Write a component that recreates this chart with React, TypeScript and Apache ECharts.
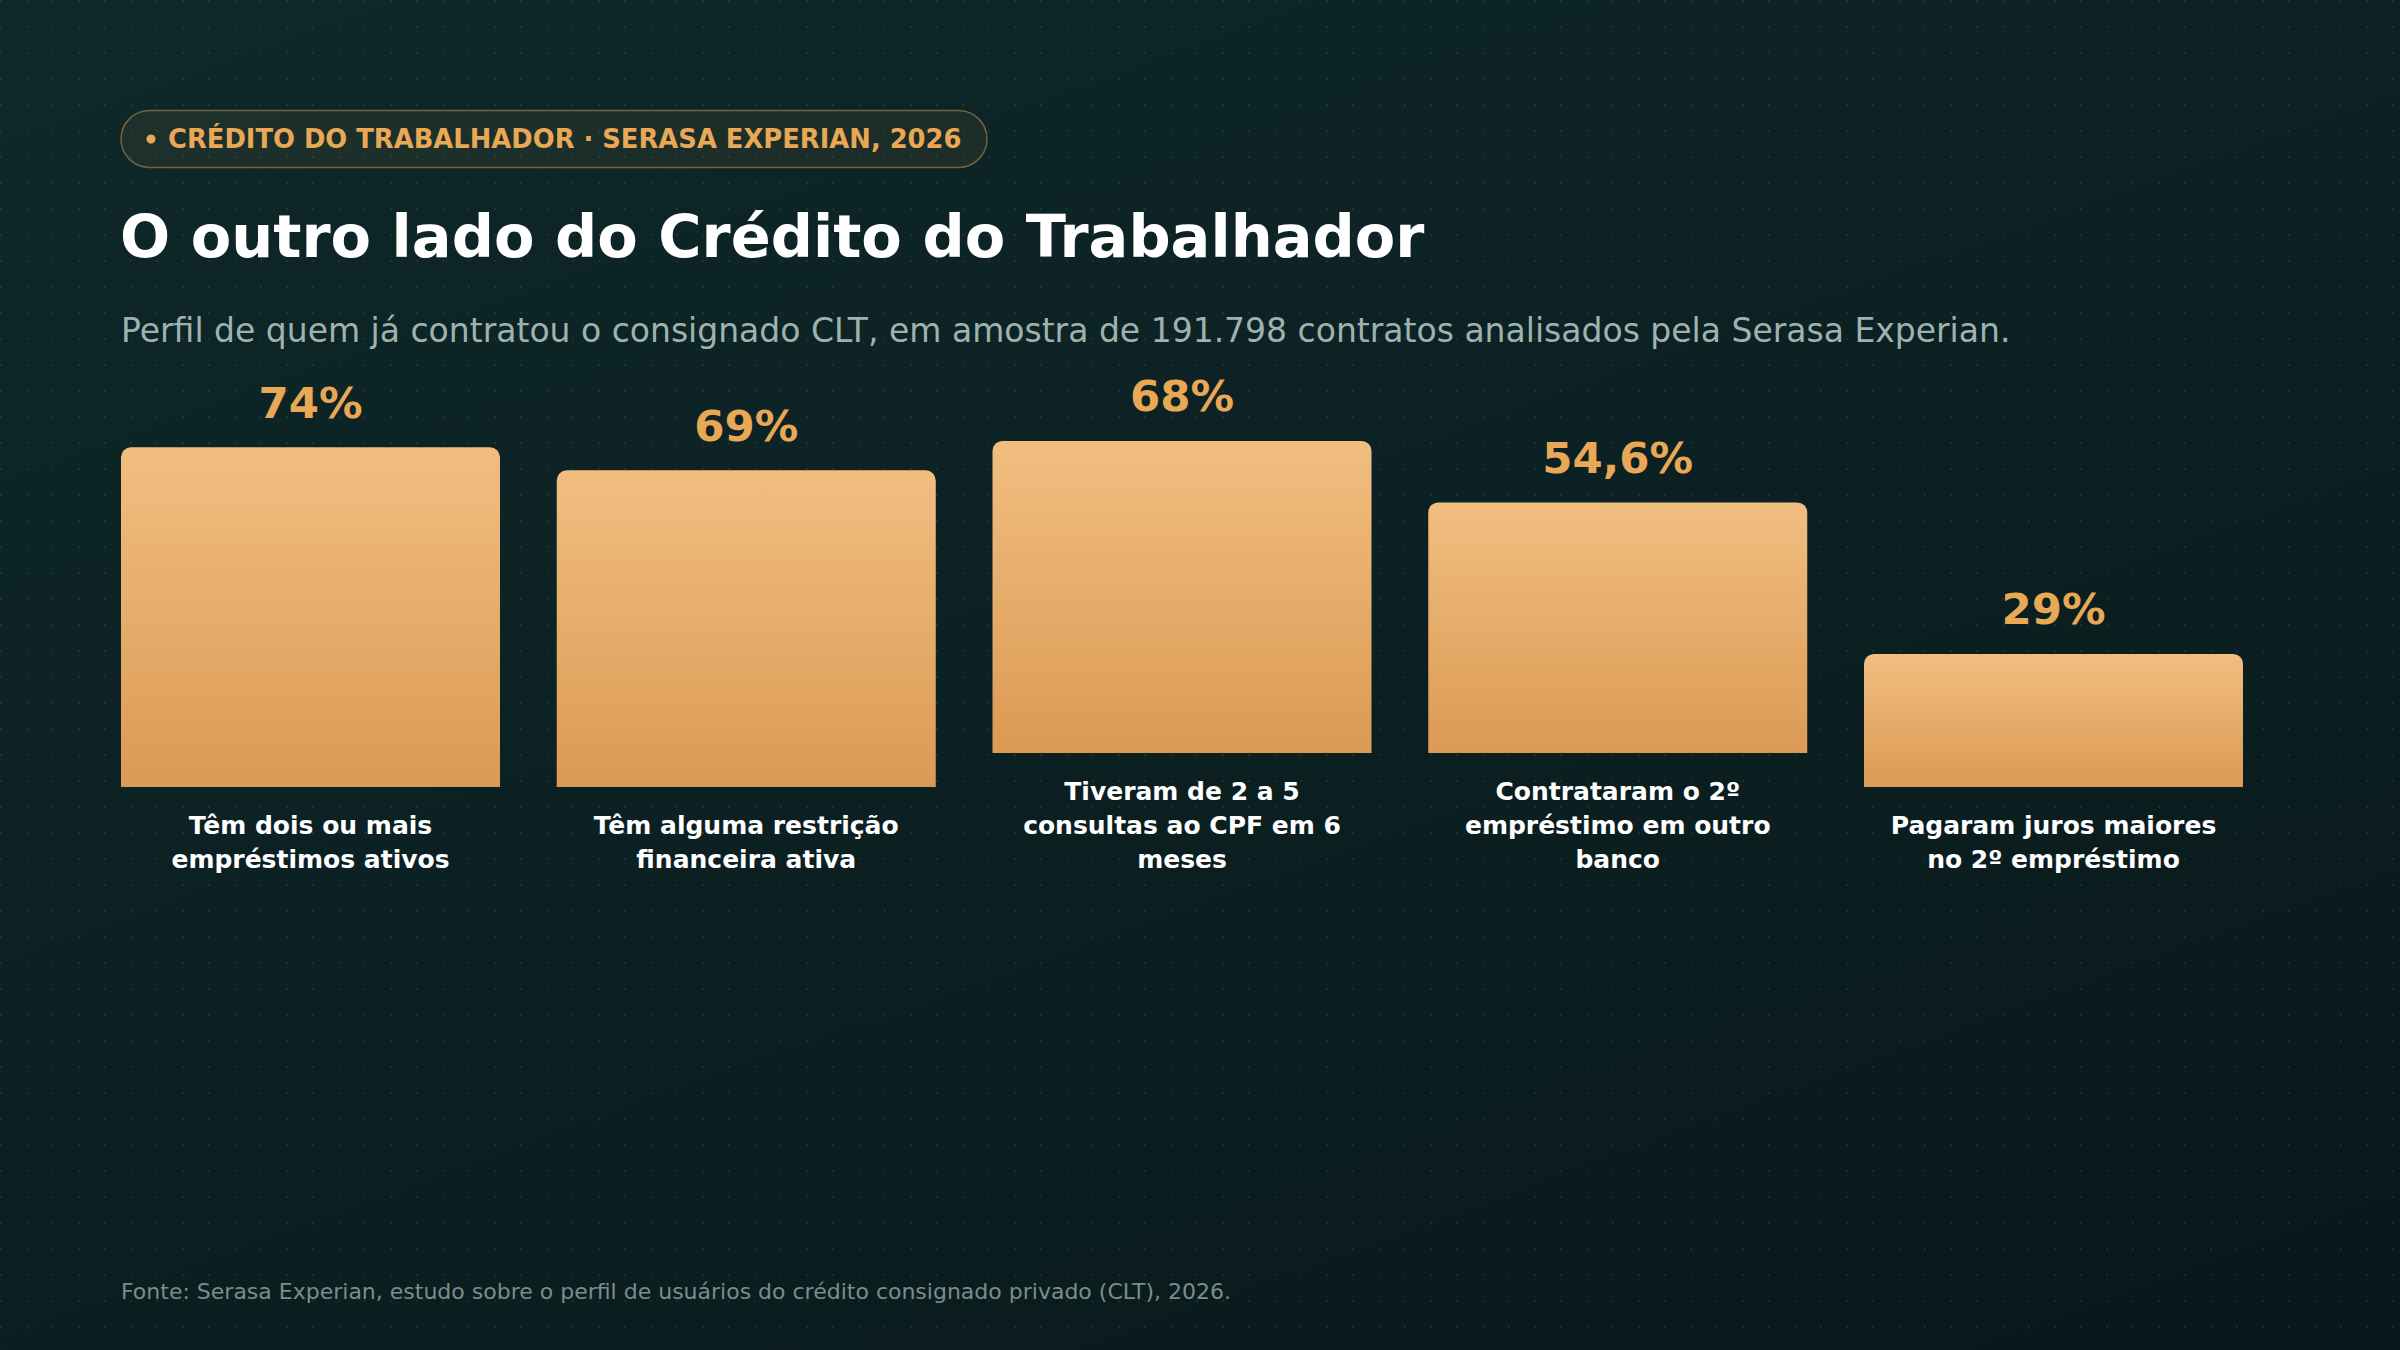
import React, { useEffect, useRef } from "react";
import * as echarts from "echarts";

// ---- data ----
const CATEGORIES: string[] = [
  "Têm dois ou mais\nempréstimos ativos",
  "Têm alguma restrição\nfinanceira ativa",
  "Tiveram de 2 a 5\nconsultas ao CPF em 6\nmeses",
  "Contrataram o 2º\nempréstimo em outro\nbanco",
  "Pagaram juros maiores\nno 2º empréstimo",
];
const VALUES: number[] = [74, 69, 68, 54.6, 29];
const Y_MIN = 0;
const Y_MAX = 100;

const KICKER = "CRÉDITO DO TRABALHADOR · SERASA EXPERIAN, 2026";
const TITLE = "O outro lado do Crédito do Trabalhador";
const SUBTITLE =
  "Perfil de quem já contratou o consignado CLT, em amostra de 191.798 contratos analisados pela Serasa Experian.";
const SOURCE =
  "Fonte: Serasa Experian, estudo sobre o perfil de usuários do crédito consignado privado (CLT), 2026.";

// ---- layout ----
const W = 2400;
const H = 1350;
const FONT = "'DejaVu Sans', sans-serif";
const PLOT_LEFT = 121;
const COL_PITCH = 435.75;
const BAR_W = 379;
const PLOT_H = 459;
const LABEL_BOTTOM = 876;
const LINE_H = 34;
const LABEL_GAP = 21;
const GOLD = "#e8a855";

export default function App() {
  const ref = useRef<HTMLDivElement>(null);

  useEffect(() => {
    document.body.style.margin = "0";
    const chart = echarts.init(ref.current!, null, {
      renderer: "svg",
      width: W,
      height: H,
    });

    const grids: any[] = [];
    const xAxes: any[] = [];
    const yAxes: any[] = [];
    const series: any[] = [];

    CATEGORIES.forEach((cat, i) => {
      const lines = cat.split("\n").length;
      const base = LABEL_BOTTOM - LABEL_GAP - lines * LINE_H;
      grids.push({
        left: PLOT_LEFT + i * COL_PITCH,
        width: BAR_W,
        top: base - PLOT_H,
        height: PLOT_H,
      });
      xAxes.push({
        type: "category",
        gridIndex: i,
        data: [cat],
        axisLine: { show: false },
        axisTick: { show: false },
        splitLine: { show: false },
        axisLabel: {
          interval: 0,
          color: "#ffffff",
          fontFamily: FONT,
          fontWeight: "bold",
          fontSize: 25,
          lineHeight: LINE_H,
          margin: LABEL_GAP,
          align: "center",
        },
      });
      yAxes.push({
        type: "value",
        gridIndex: i,
        min: Y_MIN,
        max: Y_MAX,
        show: false,
        splitLine: { show: false },
      });
      series.push({
        type: "bar",
        xAxisIndex: i,
        yAxisIndex: i,
        data: [VALUES[i]],
        barWidth: "100%",
        silent: true,
        itemStyle: {
          color: new echarts.graphic.LinearGradient(0, 0, 0, 1, [
            { offset: 0, color: "#f1be80" },
            { offset: 1, color: "#db9a55" },
          ]),
          borderRadius: [10, 10, 0, 0],
        },
        label: {
          show: true,
          position: "top",
          distance: 22.5,
          formatter: (p: any) => String(p.value).replace(".", ",") + "%",
          color: GOLD,
          fontFamily: FONT,
          fontWeight: "bold",
          fontSize: 43.5,
        },
      });
    });

    chart.setOption({
      animation: false,
      backgroundColor: "transparent",
      grid: grids,
      xAxis: xAxes,
      yAxis: yAxes,
      series,
      graphic: [
        {
          type: "rect",
          shape: { x: 121, y: 110.5, width: 866, height: 57, r: 28.5 },
          style: {
            fill: "rgba(232,168,85,0.07)",
            stroke: "rgba(232,168,85,0.45)",
            lineWidth: 1.5,
          },
          silent: true,
        },
        {
          type: "circle",
          shape: { cx: 151, cy: 139, r: 4.5 },
          style: { fill: GOLD },
          silent: true,
        },
        {
          type: "text",
          x: 168,
          y: 139,
          style: {
            text: KICKER,
            fill: GOLD,
            font: `bold 25.8px ${FONT}`,
            verticalAlign: "middle",
            align: "left",
          },
          silent: true,
        },
        {
          type: "text",
          x: 120,
          y: 236,
          style: {
            text: TITLE,
            fill: "#ffffff",
            font: `bold 59px ${FONT}`,
            verticalAlign: "middle",
            align: "left",
          },
          silent: true,
        },
        {
          type: "text",
          x: 121,
          y: 330,
          style: {
            text: SUBTITLE,
            fill: "#9fb3ae",
            font: `33px ${FONT}`,
            verticalAlign: "middle",
            align: "left",
          },
          silent: true,
        },
        {
          type: "text",
          x: 121,
          y: 1291,
          style: {
            text: SOURCE,
            fill: "#7a8e8a",
            font: `22px ${FONT}`,
            verticalAlign: "middle",
            align: "left",
          },
          silent: true,
        },
      ],
    });

    return () => chart.dispose();
  }, []);

  return (
    <div
      ref={ref}
      style={{
        position: "absolute",
        left: 0,
        top: 0,
        width: W,
        height: H,
        backgroundColor: "#0b1f21",
        backgroundImage:
          "radial-gradient(circle at 1px 1px, rgba(160,220,200,0.09) 1px, transparent 1.6px), linear-gradient(160deg, #0f2829 0%, #0c2123 45%, #08181a 100%)",
        backgroundSize: "26px 26px, 100% 100%",
      }}
    />
  );
}
